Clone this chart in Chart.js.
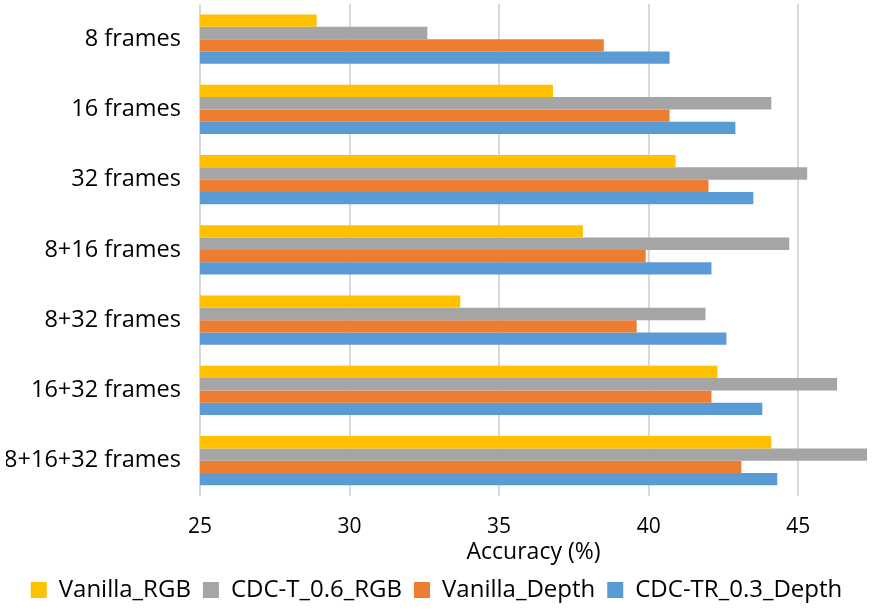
<!DOCTYPE html>
<html>
<head>
<meta charset="utf-8">
<script src="https://cdn.jsdelivr.net/npm/chart.js@4/dist/chart.umd.min.js"></script>
<style>
  html, body { margin: 0; padding: 0; background: #fff; }
  #wrap { width: 880px; height: 612px; }
</style>
</head>
<body>
<div id="wrap"><canvas id="myChart" width="880" height="612"></canvas></div>
<script>
const categories = ['8 frames', '16 frames', '32 frames', '8+16 frames', '8+32 frames', '16+32 frames', '8+16+32 frames'];
const vanillaRGB   = [28.9, 36.8, 40.9, 37.8, 33.7, 42.3, 44.1];
const cdcT06RGB    = [32.6, 44.1, 45.3, 44.7, 41.9, 46.3, 47.3];
const vanillaDepth = [38.5, 40.7, 42.0, 39.9, 39.6, 42.1, 43.1];
const cdcTR03Depth = [40.7, 42.9, 43.5, 42.1, 42.6, 43.8, 44.3];
const xTicks = [25, 30, 35, 40, 45];

document.addEventListener("DOMContentLoaded", function() {
    const ctx = document.getElementById('myChart').getContext('2d');
    const font = '"Open Sans", "Liberation Sans", sans-serif';

    const data = {
        labels: categories,
        datasets: [
            { label: 'Vanilla_RGB',      backgroundColor: '#FFC000', data: vanillaRGB },
            { label: 'CDC-T_0.6_RGB',    backgroundColor: '#A5A5A5', data: cdcT06RGB },
            { label: 'Vanilla_Depth',    backgroundColor: '#ED7D31', data: vanillaDepth },
            { label: 'CDC-TR_0.3_Depth', backgroundColor: '#5B9BD5', data: cdcTR03Depth }
        ]
    };

    const config = {
        type: 'bar',
        data: data,
        options: {
            indexAxis: 'y',
            responsive: false,
            animation: false,
            barPercentage: 1.0,
            categoryPercentage: 0.7,
            layout: { padding: { top: 4, right: 13, left: 6, bottom: 0 } },
            scales: {
                x: {
                    min: 25,
                    max: 47.3,
                    afterBuildTicks: (axis) => { axis.ticks = xTicks.map(v => ({ value: v })); },
                    // tick padding gets counted twice in fit(), take one back
                    afterFit: (s) => { s.paddingLeft = 0; s.paddingRight = 0; s.height -= 19; },
                    grid: { color: '#D9D9D9', lineWidth: 2, drawTicks: false },
                    border: { display: false },
                    ticks: { color: '#000', font: { family: font, size: 21 }, padding: 19 },
                    title: {
                        display: true,
                        text: 'Accuracy (%)',
                        color: '#000',
                        font: { family: font, size: 23, lineHeight: 1 },
                        padding: { top: 1, bottom: 2 }
                    }
                },
                y: {
                    afterFit: (s) => { s.width = 194; s.paddingTop = 0; s.paddingBottom = 0; },
                    grid: { display: false, drawTicks: false },
                    border: { display: false },
                    ticks: { color: '#000', font: { family: font, size: 23.5 }, padding: 19 }
                }
            },
            plugins: {
                legend: {
                    position: 'bottom',
                    labels: {
                        color: '#000',
                        font: { family: font, size: 24 },
                        boxWidth: 16,
                        boxHeight: 16,
                        padding: 12
                    }
                },
                tooltip: { enabled: false }
            }
        }
    };

    const myChart = new Chart(ctx, config);
});
</script>
</body>
</html>
